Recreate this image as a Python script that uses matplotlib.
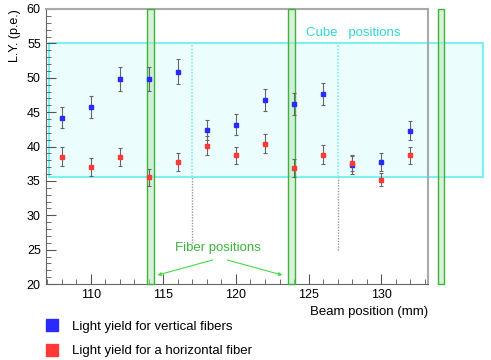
import matplotlib
matplotlib.use("Agg")
import matplotlib.pyplot as plt
from matplotlib.lines import Line2D
from matplotlib.patches import Rectangle
from matplotlib.ticker import MultipleLocator

plt.rcParams["font.family"] = ["Liberation Sans", "DejaVu Sans"]

# beam positions (mm) and light yield (p.e.)
pos = [108, 110, 112, 114, 116, 118, 120, 122, 124, 126, 128, 130, 132]
ly_vert = [44.2, 45.8, 49.8, 49.8, 50.9, 42.4, 43.2, 46.8, 46.2, 47.6, 37.3, 37.7, 42.3]
err_vert = [1.5, 1.6, 1.7, 1.7, 1.8, 1.5, 1.5, 1.6, 1.6, 1.6, 1.3, 1.3, 1.4]
ly_horiz = [38.5, 37.0, 38.5, 35.5, 37.7, 40.1, 38.7, 40.4, 36.9, 38.8, 37.6, 35.2, 38.7]
err_horiz = [1.4, 1.3, 1.3, 1.2, 1.3, 1.4, 1.3, 1.4, 1.3, 1.4, 1.2, 1.0, 1.3]

fiber_x = [113.9, 123.6, 133.9]   # left edges of fiber bands
fiber_w = 0.45
cube_edges = [107.1, 117.0, 127.0, 137.0]
cube_lo, cube_hi = 35.5, 55.0

blue = "#2a2aff"
red = "#ff3838"
cyan = "#7ff0f0"
green = "#3cb43c"

fig = plt.figure(figsize=(4.91, 3.6), dpi=100)
ax = fig.add_axes([0.093, 0.211, 0.778, 0.764])
ax.set_xlim(106.9, 133.2)
ax.set_ylim(20, 60)

# cube box
ax.add_patch(Rectangle((cube_edges[0], cube_lo), cube_edges[-1] - cube_edges[0], cube_hi - cube_lo,
                       facecolor="#ecfdfd", edgecolor=cyan, lw=1.5, clip_on=False, zorder=1))
for xe, ybot in zip(cube_edges[1:3], [26.0, 25.0]):
    ax.plot([xe, xe], [cube_lo, cube_hi], color=cyan, lw=1.2, ls=(0, (1, 1)), zorder=1)
    ax.plot([xe, xe], [ybot, cube_lo], color="#999999", lw=1.0, ls=(0, (1, 1)), zorder=1)

# fiber bands
for fx in fiber_x:
    ax.add_patch(Rectangle((fx, 20), fiber_w, 40, facecolor="#b8e6b8", alpha=0.55,
                           edgecolor="none", clip_on=False, zorder=3))
    ax.add_patch(Rectangle((fx, 20), fiber_w, 40, facecolor="none",
                           edgecolor=green, lw=1.0, clip_on=False, zorder=3))

ax.errorbar(pos, ly_vert, yerr=err_vert, fmt="s", ms=3.5, color=blue, mec=blue,
            ecolor="#666666", elinewidth=0.8, capsize=1.5, capthick=0.8, zorder=4)
ax.errorbar(pos, ly_horiz, yerr=err_horiz, fmt="s", ms=3.5, color=red, mec=red,
            ecolor="#666666", elinewidth=0.8, capsize=1.5, capthick=0.8, zorder=4)

ax.text(124.8, 56.5, "Cube   positions", color="#33d6d6", fontsize=9.5, va="center")
ax.text(115.8, 25.3, "Fiber positions", color=green, fontsize=9.5, va="center")
for start, end in [((118.4, 23.5), (114.6, 21.3)), ((119.4, 23.5), (123.2, 21.3))]:
    ax.annotate("", xy=end, xytext=start,
                arrowprops=dict(arrowstyle="-|>", color="#44dd44", lw=0.8,
                                mutation_scale=5, shrinkA=0, shrinkB=0))

ax.xaxis.set_major_locator(MultipleLocator(5))
ax.xaxis.set_minor_locator(MultipleLocator(1))
ax.yaxis.set_major_locator(MultipleLocator(5))
ax.yaxis.set_minor_locator(MultipleLocator(1))
ax.tick_params(which="both", direction="in", top=False, right=False, colors="#555555",
               labelcolor="black", labelsize=9)
ax.tick_params(which="major", length=7)
ax.tick_params(which="minor", length=3.5)
for s in ["left", "bottom"]:
    ax.spines[s].set_color("#666666")
for s in ["top", "right"]:
    ax.spines[s].set_color("#aaaaaa")
    ax.spines[s].set_linewidth(1.5)

ax.set_ylabel("L.Y. (p.e.)", fontsize=9, loc="top")
ax.set_xlabel("Beam position (mm)", fontsize=9.5, loc="right")

handles = [Line2D([], [], ls="none", marker="s", ms=8, color=blue),
           Line2D([], [], ls="none", marker="s", ms=8, color=red)]
fig.legend(handles, ["Light yield for vertical fibers", "Light yield for a horizontal fiber"],
           loc="upper left", bbox_to_anchor=(0.08, 0.127), frameon=False, fontsize=9.5,
           handlelength=1.0, handletextpad=1.0, labelspacing=0.9, borderpad=0)

fig.savefig("out.png", dpi=100)
